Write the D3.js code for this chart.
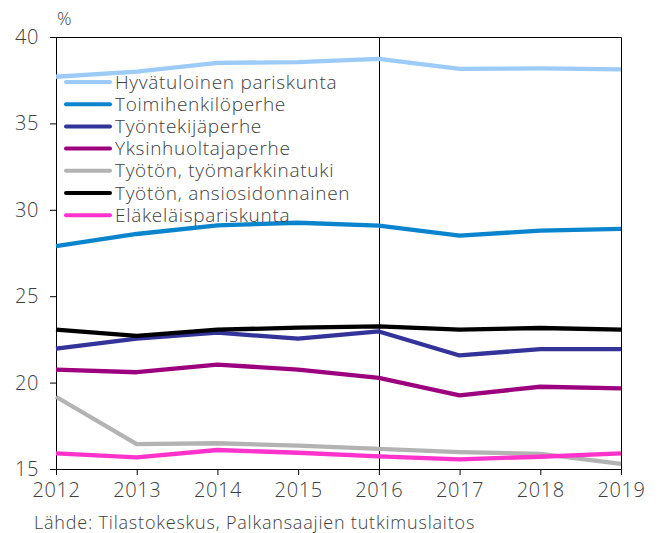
<!DOCTYPE html>
<html>
<head>
<meta charset="utf-8">
<script src="https://cdn.jsdelivr.net/npm/d3@7"></script>
<style>
  body { margin: 0; background: #fff; }
  text { font-family: "Open Sans", Lato, sans-serif; font-weight: 300; fill: #404040; }
</style>
</head>
<body>
<div id="chart"></div>
<script>
// Data
var years = [2012, 2013, 2014, 2015, 2016, 2017, 2018, 2019];
var yTicks = [15, 20, 25, 30, 35, 40];
var seriesNames = [
    "Hyvätuloinen pariskunta",
    "Toimihenkilöperhe",
    "Työntekijäperhe",
    "Yksinhuoltajaperhe",
    "Työtön, työmarkkinatuki",
    "Työtön, ansiosidonnainen",
    "Eläkeläispariskunta"
];
var seriesColors = ["#9ccbf8", "#0a84cc", "#333399", "#9c007f", "#b3b3b3", "#000000", "#ff33cc"];
var hyvatuloinen = [37.7, 38.0, 38.5, 38.55, 38.73, 38.15, 38.18, 38.13];
var toimihenkilo = [27.9, 28.6, 29.1, 29.25, 29.08, 28.5, 28.8, 28.9];
var tyontekija = [21.96, 22.54, 22.89, 22.54, 22.96, 21.57, 21.94, 21.94];
var yksinhuoltaja = [20.75, 20.6, 21.04, 20.75, 20.27, 19.26, 19.76, 19.66];
var tyomarkkinatuki = [19.18, 16.44, 16.49, 16.35, 16.17, 15.98, 15.88, 15.29];
var ansiosidonnainen = [23.06, 22.71, 23.06, 23.18, 23.25, 23.06, 23.16, 23.06];
var elakelais = [15.91, 15.67, 16.1, 15.94, 15.73, 15.56, 15.71, 15.9];
var allSeries = [hyvatuloinen, toimihenkilo, tyontekija, yksinhuoltaja, tyomarkkinatuki, ansiosidonnainen, elakelais];

var width = 658, height = 533;
var margin = { top: 37, right: 37, bottom: 64, left: 56 };
var innerW = width - margin.left - margin.right;
var innerH = height - margin.top - margin.bottom;

var svg = d3.select("#chart")
    .append("svg")
    .attr("width", width)
    .attr("height", height);

var g = svg.append("g")
    .attr("transform", "translate(" + margin.left + "," + margin.top + ")");

var x = d3.scaleLinear().domain([2012, 2019]).range([0, innerW]);
var y = d3.scaleLinear().domain([15, 40]).range([innerH, 0]);

// frame (top and right)
g.append("path")
    .attr("d", "M0,0.5H" + (innerW + 0.5) + "V" + innerH)
    .attr("fill", "none")
    .attr("stroke", "#000")
    .attr("stroke-width", 1);

// vertical line at 2016
g.append("line")
    .attr("x1", Math.round(x(2016)) + 0.5)
    .attr("x2", Math.round(x(2016)) + 0.5)
    .attr("y1", 0)
    .attr("y2", innerH)
    .attr("stroke", "#000")
    .attr("stroke-width", 1);

// y axis
var yAxis = g.append("g")
    .call(d3.axisLeft(y).tickValues(yTicks).tickSize(6).tickPadding(11));
yAxis.select(".domain").attr("stroke", "#000");
yAxis.selectAll(".tick line").attr("stroke", "#000");
yAxis.selectAll("text")
    .style("font-size", "20px")
    .style("letter-spacing", "0.6px")
    .attr("fill", "#404040");

// x axis
var xAxis = g.append("g")
    .attr("transform", "translate(0," + innerH + ")")
    .call(d3.axisBottom(x).tickValues(years).tickFormat(d3.format("d")).tickSize(6).tickPadding(8));
xAxis.select(".domain").attr("stroke", "#000");
xAxis.selectAll(".tick line").attr("stroke", "#000");
xAxis.selectAll("text")
    .style("font-size", "20px")
    .style("letter-spacing", "0.6px")
    .attr("fill", "#404040");

// lines
var line = d3.line()
    .x(function (d, i) { return x(years[i]); })
    .y(function (d) { return y(d); });

allSeries.forEach(function (s, i) {
    g.append("path")
        .datum(s)
        .attr("d", line)
        .attr("fill", "none")
        .attr("stroke", seriesColors[i])
        .attr("stroke-width", 4.3)
        .attr("stroke-linejoin", "round");
});

// legend
var legend = svg.append("g").attr("transform", "translate(66,82)");
seriesNames.forEach(function (name, i) {
    var row = legend.append("g").attr("transform", "translate(0," + (i * 22.2) + ")");
    row.append("line")
        .attr("x1", 0).attr("x2", 44)
        .attr("y1", 0).attr("y2", 0)
        .attr("stroke", seriesColors[i])
        .attr("stroke-width", 4)
        .attr("stroke-linecap", "round");
    row.append("text")
        .attr("x", 49)
        .attr("y", 0)
        .attr("dy", "0.35em")
        .style("font-size", "19px")
        .style("letter-spacing", "0.7px")
        .text(name);
});

// unit label
svg.append("text")
    .attr("x", 57)
    .attr("y", 25)
    .style("font-size", "18px")
    .text("%");

// source
svg.append("text")
    .attr("x", 34)
    .attr("y", 529)
    .style("font-size", "18px")
    .style("letter-spacing", "0.8px")
    .text("Lähde: Tilastokeskus, Palkansaajien tutkimuslaitos");
</script>
</body>
</html>
